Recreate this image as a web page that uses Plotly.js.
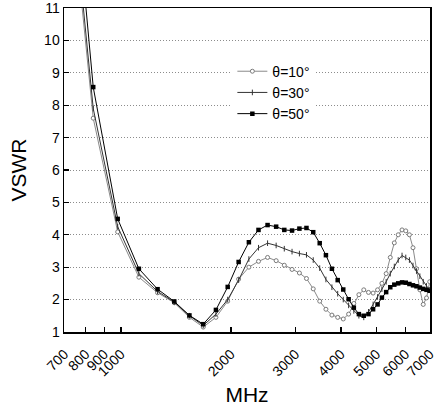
<!DOCTYPE html>
<html>
<head>
<meta charset="utf-8">
<script src="https://cdn.plot.ly/plotly-3.0.1.min.js"></script>
<style>html,body{margin:0;padding:0;background:#fff;}#chart{width:436px;height:410px;}</style>
</head>
<body>
<div id="chart"></div>
<script>
const freqMHz = [700, 840, 980, 1120, 1260, 1400, 1540, 1680, 1820, 1960, 2100, 2240, 2380, 2520, 2660, 2800, 2940, 3080, 3220, 3360, 3500, 3640, 3780, 3920, 4060, 4200, 4340, 4480, 4620, 4760, 4900, 5040, 5180, 5320, 5460, 5600, 5740, 5880, 6020, 6160, 6300, 6440, 6580, 6720, 6860, 7000];

const vswr10 = [16.5, 7.6, 4.09, 2.69, 2.21, 1.9, 1.45, 1.15, 1.45, 1.95, 2.63, 3.0, 3.18, 3.3, 3.2, 3.06, 2.93, 2.82, 2.65, 2.33, 1.95, 1.7, 1.52, 1.45, 1.4, 1.55, 1.88, 2.15, 2.3, 2.22, 2.2, 2.3, 2.5, 2.8, 3.3, 3.75, 4.0, 4.15, 4.12, 4.0, 3.6, 2.95, 2.3, 1.85, 2.05, 2.55];

const vswr30 = [17.0, 7.9, 4.25, 2.8, 2.25, 1.92, 1.5, 1.2, 1.55, 2.0, 2.6, 3.25, 3.6, 3.74, 3.67, 3.57, 3.48, 3.42, 3.38, 3.22, 2.97, 2.62, 2.38, 2.18, 2.0, 1.82, 1.65, 1.5, 1.45, 1.62, 1.85, 2.08, 2.32, 2.55, 2.8, 3.02, 3.22, 3.36, 3.3, 3.22, 3.05, 2.88, 2.72, 2.55, 2.42, 2.3];

const vswr50 = [18.3, 8.56, 4.49, 2.95, 2.32, 1.94, 1.51, 1.24, 1.68, 2.39, 3.16, 3.77, 4.15, 4.3, 4.25, 4.15, 4.13, 4.19, 4.21, 4.08, 3.74, 3.37, 2.95, 2.6, 2.31, 2.01, 1.75, 1.55, 1.5, 1.55, 1.7, 1.85, 2.06, 2.23, 2.38, 2.46, 2.5, 2.53, 2.52, 2.48, 2.44, 2.41, 2.37, 2.33, 2.3, 2.27];

const seriesNames = ['θ=10°', 'θ=30°', 'θ=50°'];
const xTickVals = [700, 800, 900, 1000, 2000, 3000, 4000, 5000, 6000, 7000];
const xTickText = ['700', '800', '900', '1000', '2000', '3000', '4000', '5000', '6000', '7000'];
const yTickVals = [1, 2, 3, 4, 5, 6, 7, 8, 9, 10, 11];

const traces = [
  {
    x: freqMHz, y: vswr10, name: seriesNames[0], type: 'scatter', mode: 'lines+markers',
    line: {color: '#8a8a8a', width: 1},
    marker: {symbol: 'circle', size: 4, color: '#ffffff', line: {color: '#7a7a7a', width: 1}}
  },
  {
    x: freqMHz, y: vswr30, name: seriesNames[1], type: 'scatter', mode: 'lines+markers',
    line: {color: '#333333', width: 1},
    marker: {symbol: 'line-ns-open', size: 4, color: '#333333', line: {color: '#333333', width: 1}}
  },
  {
    x: freqMHz, y: vswr50, name: seriesNames[2], type: 'scatter', mode: 'lines+markers',
    line: {color: '#000000', width: 1},
    marker: {symbol: 'square', size: 4.5, color: '#000000'}
  }
];

const layout = {
  width: 436, height: 410,
  margin: {l: 64, r: 6, t: 8, b: 78},
  paper_bgcolor: '#ffffff', plot_bgcolor: '#ffffff',
  font: {family: 'Liberation Sans, Arial, sans-serif', color: '#000000', size: 14},
  showlegend: true,
  legend: {
    x: 0.46, y: 0.853, xanchor: 'left', yanchor: 'top',
    bgcolor: '#ffffff', borderwidth: 0,
    font: {size: 14, family: 'Liberation Sans, Arial, sans-serif'},
    tracegroupgap: 0
  },
  xaxis: {
    type: 'log',
    range: [Math.log10(700) - 0.0008, Math.log10(7000) + 0.0008],
    tickvals: xTickVals, ticktext: xTickText,
    tickangle: -45,
    ticks: 'inside', ticklen: 5, tickwidth: 1.2, tickcolor: '#000',
    ticklabelstandoff: 7,
    ticklabeloverflow: 'allow',
    showline: true, linecolor: '#000', linewidth: 1.5, mirror: true,
    showgrid: false, zeroline: false,
    tickfont: {size: 14},
    title: {text: 'MHz', font: {size: 21}, standoff: 9}
  },
  yaxis: {
    range: [0.998, 11.002],
    tickvals: yTickVals,
    ticks: 'inside', ticklen: 5, tickwidth: 1.2, tickcolor: '#000',
    ticklabeloverflow: 'allow',
    showline: true, linecolor: '#000', linewidth: 1.5, mirror: true,
    showgrid: true, gridcolor: '#8c8c8c', griddash: '1px,2px', gridwidth: 1,
    zeroline: false,
    tickfont: {size: 14},
    title: {text: 'VSWR', font: {size: 21}, standoff: 12}
  }
};

Plotly.newPlot('chart', traces, layout, {displayModeBar: false, staticPlot: true});
</script>
</body>
</html>
